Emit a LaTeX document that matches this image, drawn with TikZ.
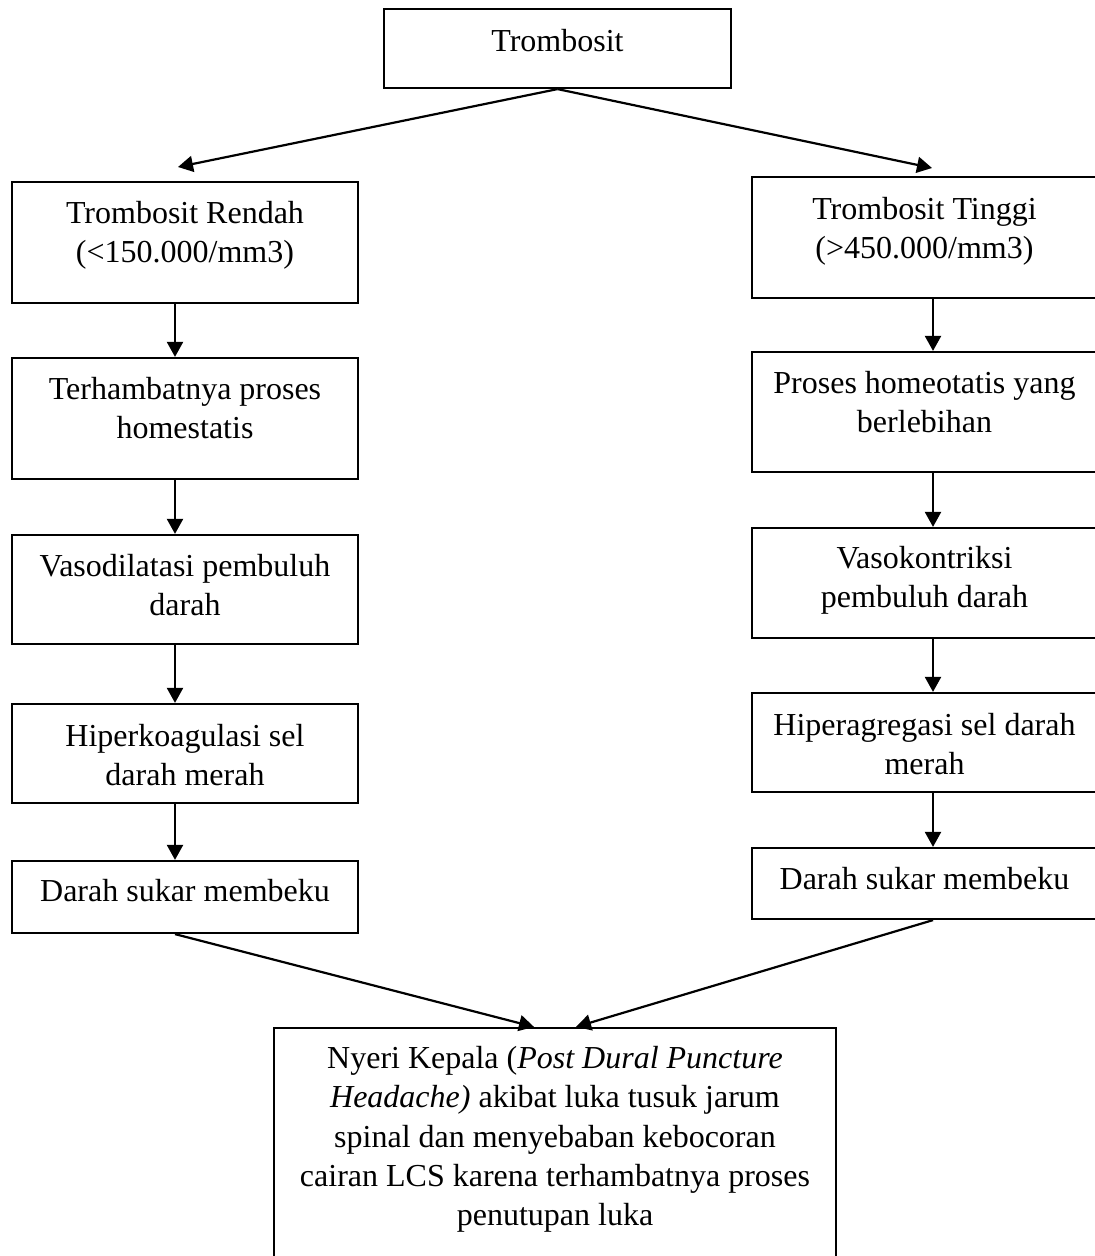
\documentclass[tikz,border=0pt]{standalone}
\usepackage{fontspec}
\setmainfont{Liberation Serif}
\usetikzlibrary{arrows.meta,fit,calc}
\begin{document}
\begin{tikzpicture}[x=0.5pt,y=-0.5pt,
  box/.style={draw, line width=1.1pt, inner sep=0pt, rectangle},
  txt/.style={anchor=north, inner sep=0pt, align=center, font=\fontsize{16}{19.7}\selectfont},
  arr/.style={line width=1.1pt, -{Triangle[length=7.5pt,width=8pt]}}]
\useasboundingbox (0,0) rectangle (1094,1256);
% column lines for arrows
\coordinate (cL) at (175,0);
\coordinate (cR) at (933,0);
% boxes
\node[box, fit={(384,9) (731,88)}] (T) {};
\node[box, fit={(12,182) (358,303)}] (L1) {};
\node[box, fit={(12,358) (358,479)}] (L2) {};
\node[box, fit={(12,535) (358,644)}] (L3) {};
\node[box, fit={(12,704) (358,803)}] (L4) {};
\node[box, fit={(12,861) (358,933)}] (L5) {};
\node[box, fit={(752,177) (1097,298)}] (R1) {};
\node[box, fit={(752,352) (1097,472)}] (R2) {};
\node[box, fit={(752,528) (1097,638)}] (R3) {};
\node[box, fit={(752,693) (1097,792)}] (R4) {};
\node[box, fit={(752,848) (1097,919)}] (R5) {};
\node[box, fit={(274,1028) (836,1262)}] (B) {};
% texts
\node[txt] (tT) at (T.north) {\rule{0pt}{21.5pt}Trombosit};
\node[txt] (tL1) at (L1.north) {\rule{0pt}{21pt}Trombosit Rendah\\(<150.000/mm3)};
\node[txt] (tL2) at (L2.north) {\rule{0pt}{21pt}Terhambatnya proses\\homestatis};
\node[txt] (tL3) at (L3.north) {\rule{0pt}{21pt}Vasodilatasi pembuluh\\darah};
\node[txt] (tL4) at (L4.north) {\rule{0pt}{21.5pt}Hiperkoagulasi sel\\darah merah};
\node[txt] (tL5) at (L5.north) {\rule{0pt}{20.5pt}Darah sukar membeku};
\node[txt] (tR1) at (R1.north) {\rule{0pt}{21.5pt}Trombosit Tinggi\\(>450.000/mm3)};
\node[txt] (tR2) at (R2.north) {\rule{0pt}{21pt}Proses homeotatis yang\\berlebihan};
\node[txt] (tR3) at (R3.north) {\rule{0pt}{20.5pt}Vasokontriksi\\pembuluh darah};
\node[txt] (tR4) at (R4.north) {\rule{0pt}{21.5pt}Hiperagregasi sel darah\\merah};
\node[txt] (tR5) at (R5.north) {\rule{0pt}{21pt}Darah sukar membeku};
\node[txt] (tB) at (B.north) {\rule{0pt}{20.5pt}Nyeri Kepala (\textit{Post Dural Puncture}\\\textit{Headache)} akibat luka tusuk jarum\\spinal dan menyebaban kebocoran\\cairan LCS karena terhambatnya proses\\penutupan luka};
% free ends of the top arrows
\coordinate (aL) at (178,167);
\coordinate (aR) at (932,168);
% connectors
\draw[arr] (T.south) -- (aL);
\draw[arr] (T.south) -- (aR);
\draw[arr] (L1.south -| cL) -- (L2.north -| cL);
\draw[arr] (L2.south -| cL) -- (L3.north -| cL);
\draw[arr] (L3.south -| cL) -- (L4.north -| cL);
\draw[arr] (L4.south -| cL) -- (L5.north -| cL);
\draw[arr] (R1.south -| cR) -- (R2.north -| cR);
\draw[arr] (R2.south -| cR) -- (R3.north -| cR);
\draw[arr] (R3.south -| cR) -- (R4.north -| cR);
\draw[arr] (R4.south -| cR) -- (R5.north -| cR);
\draw[arr] (L5.south -| cL) -- ($(B.north)+(-21,0)$);
\draw[arr] (R5.south -| cR) -- ($(B.north)+(21,0)$);
\end{tikzpicture}
\end{document}
